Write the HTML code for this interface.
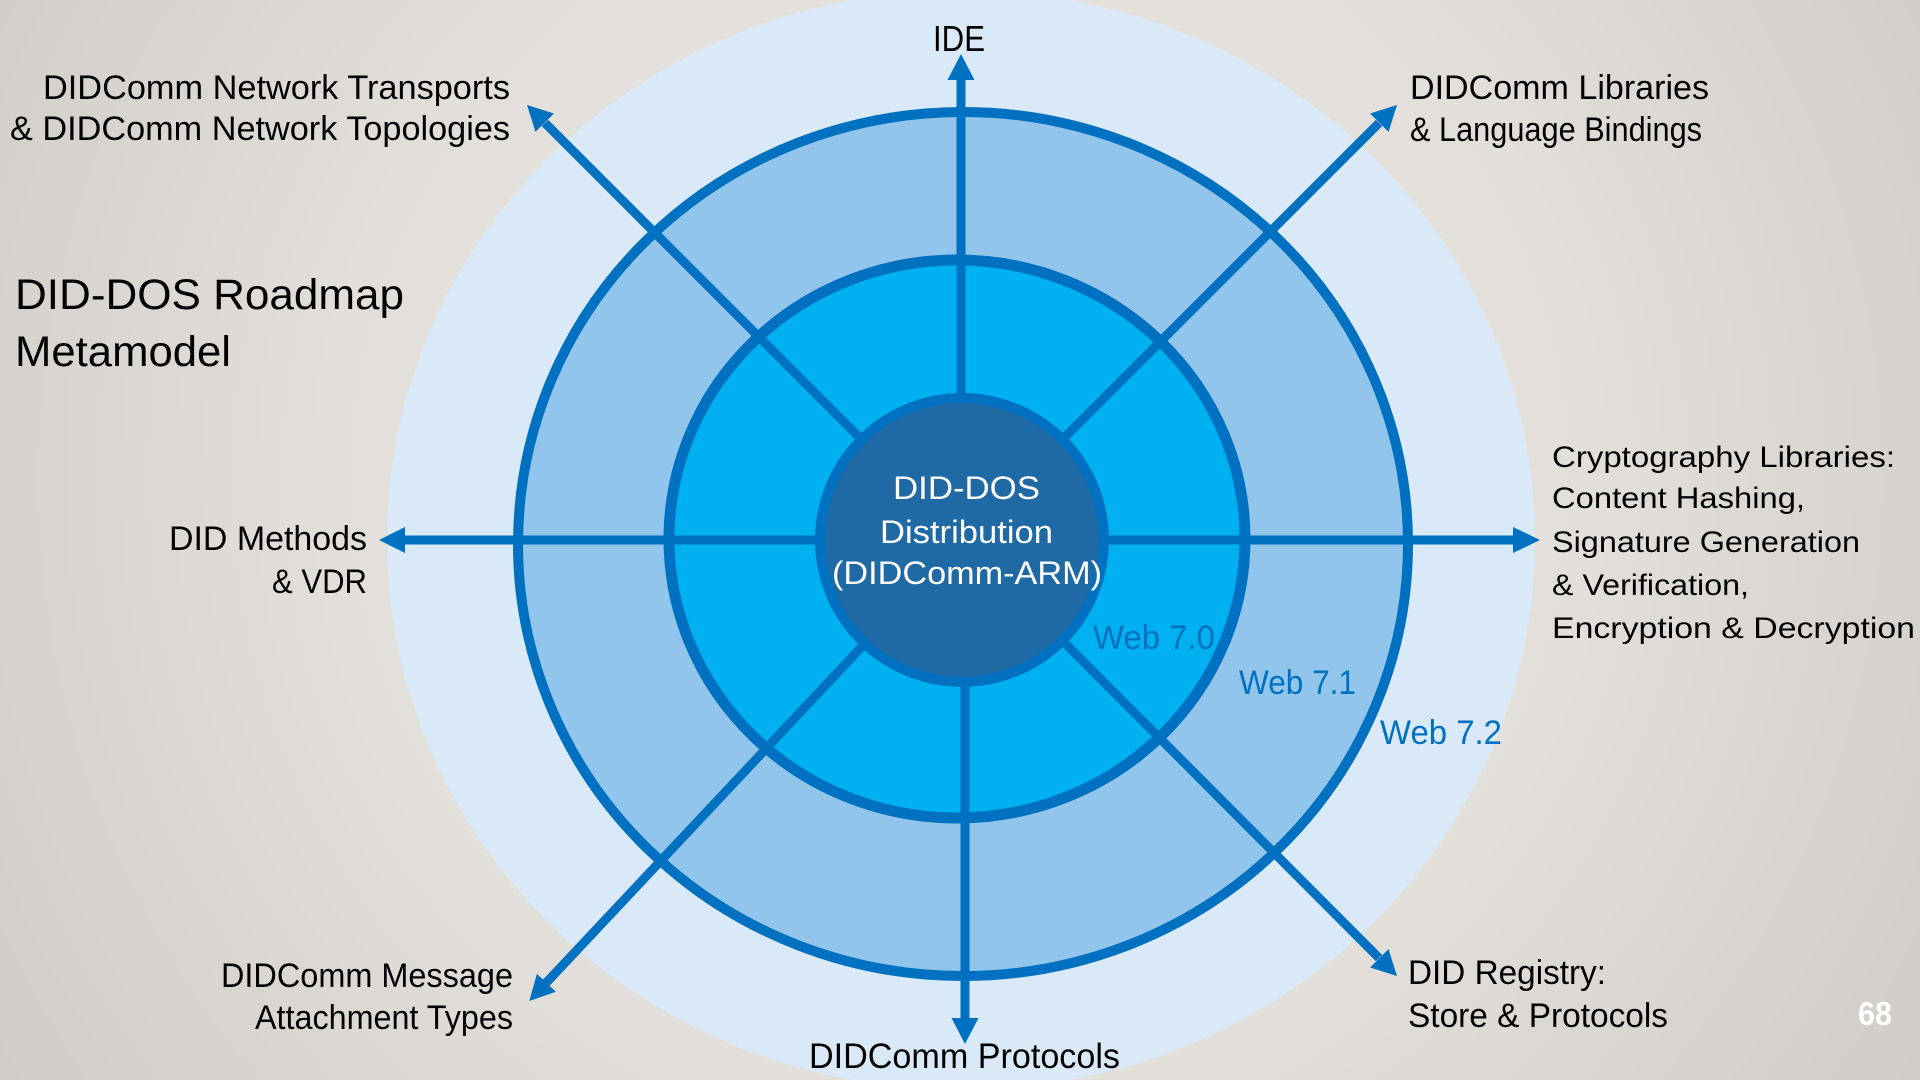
<!DOCTYPE html>
<html>
<head>
<meta charset="utf-8">
<style>
html,body{margin:0;padding:0;width:1920px;height:1080px;overflow:hidden;background:#dedad5;}
svg{display:block;}
text{font-family:"Liberation Sans",Arial,sans-serif;}
</style>
</head>
<body>
<svg width="1920" height="1080" viewBox="0 0 1920 1080" xmlns="http://www.w3.org/2000/svg">
<defs>
<radialGradient id="bg" cx="960" cy="480" r="1150" gradientUnits="userSpaceOnUse">
<stop offset="0" stop-color="#ebe8e4"/>
<stop offset="0.55" stop-color="#e2dfda"/>
<stop offset="1" stop-color="#cfccc7"/>
</radialGradient>
</defs>
<rect x="0" y="0" width="1920" height="1080" fill="url(#bg)"/>

<!-- outer light ellipse -->
<ellipse cx="961" cy="540" rx="574" ry="550" fill="#d9e9f7"/>
<!-- ring 2 -->
<ellipse cx="963" cy="544" rx="445" ry="432" fill="#91c5eb" stroke="#0070c0" stroke-width="10"/>
<!-- ring 1 -->
<ellipse cx="957" cy="539" rx="288" ry="279" fill="#00b0f0" stroke="#0070c0" stroke-width="11"/>

<!-- lines -->
<g stroke="#0070c0" stroke-width="9" fill="none" stroke-linecap="butt">
<line x1="961" y1="540" x2="961" y2="78"/>
<line x1="965" y1="540" x2="965" y2="1020"/>
<line x1="962" y1="540" x2="403" y2="540"/>
<line x1="962" y1="540" x2="1515" y2="540"/>
<line x1="962" y1="540" x2="545" y2="123"/>
<line x1="962" y1="540" x2="1379" y2="123"/>
<line x1="962" y1="540" x2="1379" y2="958"/>
<line x1="962" y1="540" x2="546" y2="983"/>
</g>
<g fill="#0070c0">
<polygon points="961,54 947.5,80 974.5,80"/>
<polygon points="965,1044 951.5,1018 978.5,1018"/>
<polygon points="379,540 405,527 405,553"/>
<polygon points="1540,540 1513,527 1513,553"/>
<polygon points="527,105 553.9,113.5 535.5,131.9"/>
<polygon points="1397,105 1388.5,131.9 1370.1,113.5"/>
<polygon points="1397,976 1388.5,949.1 1370.1,967.5"/>
<polygon points="529.3,1001 555.9,991.7 536.9,973.9"/>
</g>

<!-- center circle -->
<circle cx="962" cy="540" r="142" fill="#1f69a4" stroke="#0070c0" stroke-width="10"/>

<!-- center text -->
<g fill="#ffffff" font-size="32.5">
<text x="893" y="499" textLength="147" lengthAdjust="spacingAndGlyphs">DID-DOS</text>
<text x="880" y="543" textLength="173" lengthAdjust="spacingAndGlyphs">Distribution</text>
<text x="832" y="584" textLength="270" lengthAdjust="spacingAndGlyphs">(DIDComm-ARM)</text>
</g>

<!-- web labels -->
<g fill="#0070c0" font-size="34">
<text x="1093" y="649" textLength="122" lengthAdjust="spacingAndGlyphs">Web 7.0</text>
<text x="1239" y="694" textLength="117" lengthAdjust="spacingAndGlyphs">Web 7.1</text>
<text x="1380" y="744" textLength="122" lengthAdjust="spacingAndGlyphs">Web 7.2</text>
</g>

<!-- labels -->
<g fill="#000000" font-size="34">
<text x="933" y="51" font-size="36" textLength="52" lengthAdjust="spacingAndGlyphs">IDE</text>
<text x="43" y="99" textLength="467" lengthAdjust="spacingAndGlyphs">DIDComm Network Transports</text>
<text x="10" y="140" textLength="500" lengthAdjust="spacingAndGlyphs">&amp; DIDComm Network Topologies</text>
<text x="1410" y="99" textLength="299" lengthAdjust="spacingAndGlyphs">DIDComm Libraries</text>
<text x="1410" y="141" textLength="292" lengthAdjust="spacingAndGlyphs">&amp; Language Bindings</text>
<text x="169" y="550" textLength="198" lengthAdjust="spacingAndGlyphs">DID Methods</text>
<text x="272" y="593" textLength="95" lengthAdjust="spacingAndGlyphs">&amp; VDR</text>
<text x="221" y="987" textLength="292" lengthAdjust="spacingAndGlyphs">DIDComm Message</text>
<text x="255" y="1029" textLength="258" lengthAdjust="spacingAndGlyphs">Attachment Types</text>
<text x="809" y="1068" font-size="35" textLength="311" lengthAdjust="spacingAndGlyphs">DIDComm Protocols</text>
<text x="1408" y="984" textLength="198" lengthAdjust="spacingAndGlyphs">DID Registry:</text>
<text x="1408" y="1027" textLength="260" lengthAdjust="spacingAndGlyphs">Store &amp; Protocols</text>
</g>
<g fill="#000000" font-size="30">
<text x="1552" y="467" textLength="343" lengthAdjust="spacingAndGlyphs">Cryptography Libraries:</text>
<text x="1552" y="508" textLength="253" lengthAdjust="spacingAndGlyphs">Content Hashing,</text>
<text x="1552" y="552" textLength="308" lengthAdjust="spacingAndGlyphs">Signature Generation</text>
<text x="1552" y="595" textLength="197" lengthAdjust="spacingAndGlyphs">&amp; Verification,</text>
<text x="1552" y="638" textLength="363" lengthAdjust="spacingAndGlyphs">Encryption &amp; Decryption</text>
</g>
<g fill="#000000" font-size="43">
<text x="15" y="309" textLength="389" lengthAdjust="spacingAndGlyphs">DID-DOS Roadmap</text>
<text x="15" y="366" textLength="216" lengthAdjust="spacingAndGlyphs">Metamodel</text>
</g>
<text x="1858" y="1025" fill="#ffffff" font-size="33" font-weight="bold" textLength="34" lengthAdjust="spacingAndGlyphs">68</text>
</svg>
</body>
</html>
